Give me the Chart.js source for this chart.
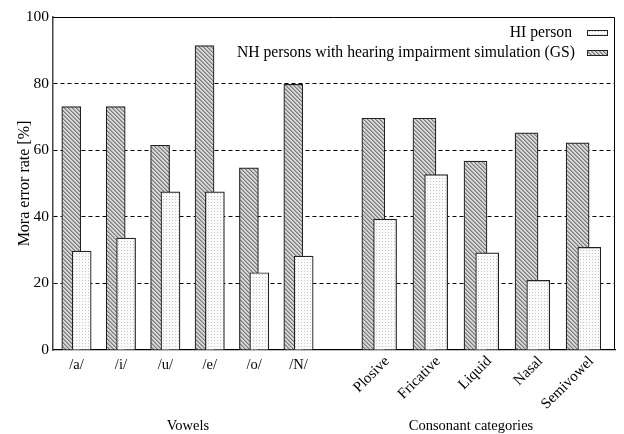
<!DOCTYPE html>
<html>
<head>
<meta charset="utf-8">
<script src="https://cdn.jsdelivr.net/npm/chart.js@4/dist/chart.umd.min.js"></script>
<style>
  html, body { margin: 0; padding: 0; background: #fff; }
  #wrap { width: 624px; height: 434px; }
</style>
</head>
<body>
<div id="wrap"><canvas id="c" width="624" height="434"></canvas></div>
<script>
// Mora error rates [%] per vowel and per consonant category
const seriesNames = ['HI person', 'NH persons with hearing impairment simulation (GS)'];

const vowels = ['/a/', '/i/', '/u/', '/e/', '/o/', '/N/'];
const vowelHI = [29.7, 33.6, 47.5, 47.5, 23.2, 28.2];
const vowelGS = [73.1, 73.1, 61.5, 91.4, 54.7, 79.8];

const consonants = ['Plosive', 'Fricative', 'Liquid', 'Nasal', 'Semivowel'];
const consHI = [39.3, 52.7, 29.2, 20.9, 30.8];
const consGS = [69.6, 69.6, 56.7, 65.2, 62.2];

const yTicks = [0, 20, 40, 60, 80, 100];
const groupTitles = ['Vowels', 'Consonant categories'];

// ---- layout along the x axis (axis units) ----
const X_MIN = 0.471, X_MAX = 13.128;
const vowelX = vowels.map((_, i) => 1 + i);
const CONS_START = 7.818, CONS_STEP = 1.15;
const consX = consonants.map((_, i) => CONS_START + i * CONS_STEP);
const groupTitleX = [3.51, 9.885];
const VOWEL_SHIFT = 0.117, CONS_SHIFT = 0.132;

const FONT = '"Liberation Serif", "DejaVu Serif", serif';

// ---- fill patterns ----
function hatchPattern() {
  const s = 4;
  const cv = document.createElement('canvas');
  cv.width = s; cv.height = s;
  const g = cv.getContext('2d');
  g.fillStyle = '#d6d6d6';
  g.fillRect(0, 0, s, s);
  g.fillStyle = '#7a7a7a';
  for (let i = 0; i < s; i++) {
    g.fillRect(i, i, 1, 1);
  }
  g.fillStyle = '#a8a8a8';
  for (let i = 0; i < s; i++) {
    g.fillRect((i + 1) % s, i, 1, 1);
  }
  return g.createPattern(cv, 'repeat');
}
function dotPattern() {
  const s = 3;
  const cv = document.createElement('canvas');
  cv.width = s; cv.height = s;
  const g = cv.getContext('2d');
  g.fillStyle = '#fbfbfb';
  g.fillRect(0, 0, s, s);
  g.fillStyle = '#c4c4c4';
  g.fillRect(1, 1, 1, 1);
  return g.createPattern(cv, 'repeat');
}
const hiFill = dotPattern();
const gsFill = hatchPattern();
const EDGE = '#222';

function pts(xs, ys, shift) {
  return ys.map((v, i) => ({ x: xs[i] + shift, y: v }));
}

const datasets = [
  { label: seriesNames[0], data: pts(vowelX, vowelHI, VOWEL_SHIFT), barThickness: 19, backgroundColor: hiFill },
  { label: seriesNames[0], data: pts(consX, consHI, CONS_SHIFT), barThickness: 23, backgroundColor: hiFill },
  { label: seriesNames[1], data: pts(vowelX, vowelGS, -VOWEL_SHIFT), barThickness: 19, backgroundColor: gsFill },
  { label: seriesNames[1], data: pts(consX, consGS, -CONS_SHIFT), barThickness: 23, backgroundColor: gsFill }
].map(d => Object.assign(d, { grouped: false, borderColor: EDGE, borderWidth: 1.2, borderSkipped: 'bottom' }));

// frame, key, category and group labels
const decorations = {
  id: 'decorations',
  afterDatasetsDraw(chart) {
    const { ctx, chartArea: a, scales: { x } } = chart;
    ctx.save();
    // plot frame
    ctx.strokeStyle = '#000';
    ctx.lineWidth = 1;
    ctx.beginPath();
    ctx.moveTo(a.left, a.top + 0.5);
    ctx.lineTo(a.right - 0.5, a.top + 0.5);
    ctx.lineTo(a.right - 0.5, a.bottom);
    ctx.stroke();

    // key, top right
    const keyFills = [hiFill, gsFill];
    ctx.font = '15.7px ' + FONT;
    ctx.fillStyle = '#000';
    ctx.textAlign = 'right';
    ctx.textBaseline = 'middle';
    seriesNames.forEach((name, i) => {
      const cy = 33 + i * 20;
      ctx.fillText(name, i === 1 ? 575 : 572, cy);
      ctx.fillStyle = keyFills[i];
      ctx.fillRect(587, cy - 2, 20, 4);
      ctx.strokeStyle = EDGE;
      ctx.lineWidth = 1;
      ctx.strokeRect(587.5, cy - 2.5, 20, 5);
      ctx.fillStyle = '#000';
    });

    // vowel labels, horizontal
    ctx.font = '14.5px ' + FONT;
    ctx.textAlign = 'center';
    vowels.forEach((v, i) => ctx.fillText(v, x.getPixelForValue(vowelX[i]), 365));

    // consonant labels, rotated
    ctx.font = '15px ' + FONT;
    ctx.textAlign = 'right';
    consonants.forEach((c, i) => {
      ctx.save();
      ctx.translate(x.getPixelForValue(consX[i]) + 8, 359);
      ctx.rotate(-Math.PI / 4);
      ctx.fillText(c, 0, 0);
      ctx.restore();
    });

    // group titles
    ctx.font = '14.5px ' + FONT;
    ctx.textAlign = 'center';
    groupTitles.forEach((t, i) => ctx.fillText(t, x.getPixelForValue(groupTitleX[i]), 426));
    ctx.restore();
  }
};

new Chart(document.getElementById('c'), {
  type: 'bar',
  data: { datasets },
  options: {
    responsive: false,
    animation: false,
    events: [],
    layout: { padding: { top: 17, right: 9, left: 0, bottom: 0 } },
    plugins: { legend: { display: false }, tooltip: { enabled: false } },
    scales: {
      x: {
        type: 'linear',
        min: X_MIN,
        max: X_MAX,
        offset: false,
        ticks: { display: false },
        grid: { display: false, drawTicks: false },
        border: { display: true, color: '#000', width: 1.2 },
        afterFit(s) { s.height = 84; }
      },
      y: {
        min: 0,
        max: 100,
        afterBuildTicks(s) { s.ticks = yTicks.map(v => ({ value: v })); },
        ticks: { color: '#000', padding: 4, font: { family: FONT, size: 15.5 } },
        grid: {
          drawTicks: false,
          color: c => (c.tick && c.tick.value > 0 && c.tick.value < 100) ? '#000' : 'rgba(0,0,0,0)',
          lineWidth: 1
        },
        border: { display: true, color: '#444', width: 1.5, dash: [4, 3] },
        title: {
          display: true,
          text: 'Mora error rate [%]',
          color: '#000',
          font: { family: FONT, size: 16 },
          padding: { top: 15, bottom: 0 }
        },
        afterFit(s) { s.width = 53; }
      }
    }
  },
  plugins: [decorations]
});
</script>
</body>
</html>
